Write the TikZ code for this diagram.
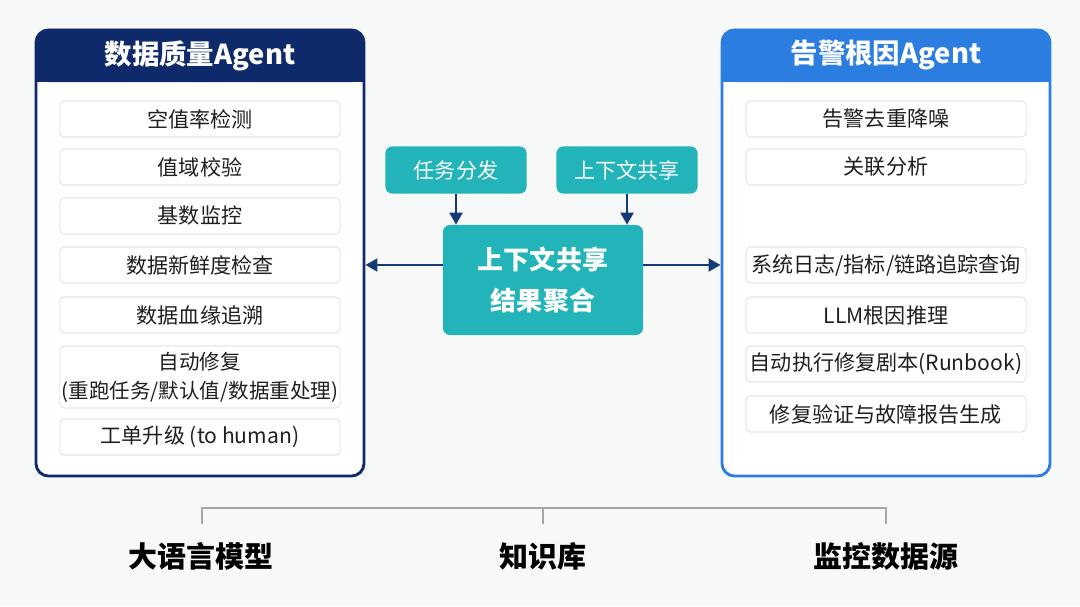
\documentclass[tikz,border=0pt]{standalone}
\usepackage{fontspec}
\setmainfont{Noto Sans CJK SC}
\usepackage{tikz}
\usetikzlibrary{positioning,arrows.meta}
\definecolor{dqnavy}{RGB}{14,42,106}
\definecolor{alblue}{RGB}{43,125,224}
\definecolor{hubteal}{RGB}{34,180,184}
\definecolor{flowblue}{RGB}{22,58,118}
\definecolor{pagebg}{RGB}{247,248,248}

\begin{document}
\begin{tikzpicture}[x=0.025cm, y=-0.025cm,
          every node/.style={font=\fontsize{15}{20.6}\selectfont, text=black!88},
          panel/.style={draw, line width=2pt, rounded corners=9pt, fill=white, minimum width=8.2cm, minimum height=11.15cm},
          head/.style={rounded corners=9pt, minimum width=8.2cm, minimum height=1.33cm, anchor=north, text=white, font=\fontsize{19.5}{24}\selectfont\bfseries},
          item/.style={draw=black!17, fill=white, rounded corners=3pt, minimum width=7cm, minimum height=0.9cm, inner xsep=0pt, align=center},
          hub/.style={fill=hubteal, rounded corners=5pt, text=white, align=center},
          flow/.style={draw=flowblue, line width=1.8pt, -{Triangle[length=0.3cm, width=0.32cm]}},
          base/.style={font=\fontsize{20.6}{24}\selectfont\bfseries, text=black},
          bus/.style={draw=black!35, line width=1pt}
      ]
        \fill[pagebg] (0,0) rectangle (1080,606);
        \useasboundingbox (0,0) rectangle (1080,606);

        % left agent
        \node[panel, draw=dqnavy] (dq) at (200,253) {};
        \fill[dqnavy] ([yshift=-0.6cm]dq.north west) rectangle ([yshift=-1.33cm]dq.north east);
        \node[head, fill=dqnavy] (dqhead) at (dq.north) {数据质量Agent};

        \node[item] (dq1) at (200,119) {空值率检测};
        \node[item] (dq2) at (200,167) {值域校验};
        \node[item] (dq3) at (200,216) {基数监控};
        \node[item] (dq4) at (200,265) {数据新鲜度检查};
        \node[item] (dq5) at (200,315) {数据血缘追溯};
        \node[item, minimum height=1.55cm, font=\fontsize{14.6}{20.6}\selectfont] (dq6) at (200,377) {自动修复\\(重跑任务/默认值/数据重处理)};
        \node[item] (dq7) at (200,437) {工单升级 (to human)};

        % right agent
        \node[panel, draw=alblue] (al) at (886,253) {};
        \fill[alblue] ([yshift=-0.6cm]al.north west) rectangle ([yshift=-1.33cm]al.north east);
        \node[head, fill=alblue] (alhead) at (al.north) {告警根因Agent};

        \node[item] (al1) at (886,119) {告警去重降噪};
        \node[item] (al2) at (886,167) {关联分析};
        \node[item] (al3) at (886,265) {系统日志/指标/链路追踪查询};
        \node[item] (al4) at (886,315) {LLM根因推理};
        \node[item] (al5) at (886,364) {自动执行修复剧本(Runbook)};
        \node[item] (al6) at (886,414) {修复验证与故障报告生成};

        % hub in the middle
        \node[hub, minimum width=3.53cm, minimum height=1.18cm] (task) at (456,170) {任务分发};
        \node[hub, minimum width=3.53cm, minimum height=1.18cm] (ctx) at (627,170) {上下文共享};
        \node[hub, minimum width=5cm, minimum height=2.75cm, font=\fontsize{18.5}{29}\selectfont\bfseries] (agg) at (543,280) {上下文共享\\结果聚合};

        \draw[flow] (task.south) -- (task.south |- agg.north);
        \draw[flow] (ctx.south) -- (ctx.south |- agg.north);
        \draw[flow] (agg.west |- dq4) -- (dq.east |- dq4);
        \draw[flow] (agg.east |- al3) -- (al.west |- al3);

        % foundation
        \node[base] (llm) at (201,556) {大语言模型};
        \node[base] (kb) at (543,556) {知识库};
        \node[base] (mon) at (886,556) {监控数据源};

        \coordinate (busl) at (202,524);
        \coordinate (busm) at (543,524);
        \coordinate (busr) at (886,524);
        \draw[bus] (busl) -- ++(0,-16) -| (busr);
        \draw[bus] (busm) -- ++(0,-16);
      \end{tikzpicture}
\end{document}
